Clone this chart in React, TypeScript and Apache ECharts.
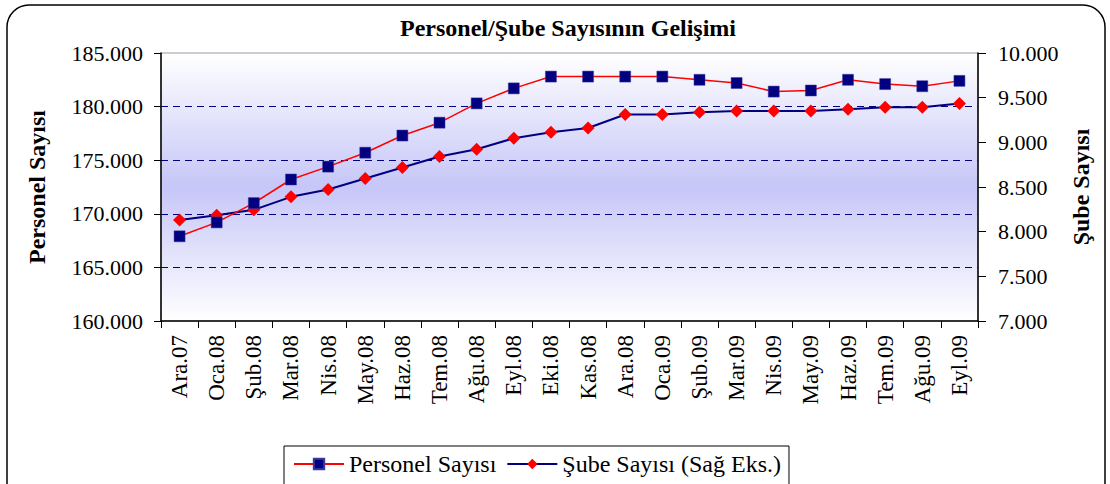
import React, { useEffect, useRef } from "react";
import * as echarts from "echarts";

const categories = [
  "Ara.07", "Oca.08", "Şub.08", "Mar.08", "Nis.08", "May.08", "Haz.08", "Tem.08",
  "Ağu.08", "Eyl.08", "Eki.08", "Kas.08", "Ara.08", "Oca.09", "Şub.09", "Mar.09",
  "Nis.09", "May.09", "Haz.09", "Tem.09", "Ağu.09", "Eyl.09",
];

const personelSayisi = [
  167900, 169200, 171000, 173200, 174400, 175700, 177300, 178500, 180300, 181700, 182800,
  182800, 182800, 182800, 182500, 182200, 181400, 181500, 182500, 182100, 181900, 182400,
];

const subeSayisi = [
  8130, 8185, 8245, 8390, 8472, 8595, 8718, 8841, 8923, 9046, 9113,
  9161, 9311, 9311, 9337, 9351, 9351, 9351, 9370, 9393, 9393, 9434,
];

const gridLineValues = [165000, 170000, 175000, 180000];

const FONT = "'Liberation Serif', 'Times New Roman', serif";

const fmt = (v: number) => {
  const s = Math.round(v).toString();
  return s.replace(/\B(?=(\d{3})+(?!\d))/g, ".");
};

export default function App() {
  const ref = useRef<HTMLDivElement>(null);
  useEffect(() => {
    if (!ref.current) return;
    const chart = echarts.init(ref.current, undefined, { renderer: "svg" });
    chart.setOption({
      animation: false,
      backgroundColor: "#ffffff",
      textStyle: { fontFamily: FONT, color: "#000" },
      title: {
        text: "Personel/Şube Sayısının Gelişimi",
        left: 563,
        textAlign: "center",
        top: 11,
        textStyle: { fontFamily: FONT, fontSize: 24, fontWeight: "bold", color: "#000" },
      },
      graphic: [
        {
          type: "rect",
          shape: { x: 7, y: 5, width: 1098, height: 500, r: 22 },
          style: { fill: "none", stroke: "#000", lineWidth: 1.5 },
          silent: true,
          z: 100,
        },
      ],
      legend: {
        left: 284,
        top: 446,
        padding: [6, 8, 10, 9],
        itemGap: 10,
        itemWidth: 50,
        itemHeight: 13,
        borderColor: "#000",
        borderWidth: 1,
        backgroundColor: "#fff",
        textStyle: { fontFamily: FONT, fontSize: 24, color: "#000" },
        data: ["Personel Sayısı", "Şube Sayısı (Sağ Eks.)"],
      },
      grid: {
        left: 161,
        right: 132,
        top: 53,
        bottom: 163,
        show: true,
        borderColor: "#999",
        borderWidth: 1,
        backgroundColor: {
          type: "linear",
          x: 0, y: 0, x2: 0, y2: 1,
          colorStops: [
            { offset: 0, color: "#ffffff" },
            { offset: 0.5, color: "#c6c6f8" },
            { offset: 1, color: "#ffffff" },
          ],
        },
      },
      xAxis: {
        type: "category",
        data: categories,
        boundaryGap: true,
        axisLine: { lineStyle: { color: "#000", width: 1.5 } },
        axisTick: { show: true, length: 7, lineStyle: { color: "#000" } },
        axisLabel: {
          rotate: 90,
          interval: 0,
          margin: 14,
          fontFamily: FONT,
          fontSize: 23,
          color: "#000",
        },
      },
      yAxis: [
        {
          type: "value",
          min: 160000,
          max: 185000,
          interval: 5000,
          name: "Personel Sayısı",
          nameLocation: "middle",
          nameGap: 112,
          nameTextStyle: { fontFamily: FONT, fontSize: 24, fontWeight: "bold", color: "#000" },
          axisLine: { show: true, lineStyle: { color: "#000", width: 1.5 } },
          axisTick: { show: true, length: 7, lineStyle: { color: "#000" } },
          axisLabel: { margin: 18, fontFamily: FONT, fontSize: 22, color: "#000", formatter: fmt },
          splitLine: { show: false },
        },
        {
          type: "value",
          min: 7000,
          max: 10000,
          interval: 500,
          position: "right",
          name: "Şube Sayısı",
          nameLocation: "middle",
          nameGap: 87,
          nameTextStyle: { fontFamily: FONT, fontSize: 24, fontWeight: "bold", color: "#000" },
          axisLine: { show: true, lineStyle: { color: "#000", width: 1.5 } },
          axisTick: { show: true, length: 8, lineStyle: { color: "#000" } },
          axisLabel: { margin: 20, fontFamily: FONT, fontSize: 22, color: "#000", formatter: fmt },
          splitLine: { show: false },
        },
      ],
      series: [
        {
          name: "Personel Sayısı",
          type: "line",
          yAxisIndex: 0,
          data: personelSayisi,
          symbol: "rect",
          symbolSize: 11,
          lineStyle: { color: "#ff0000", width: 1.5 },
          itemStyle: { color: "#000080", borderColor: "#3a3aa0", borderWidth: 0.5 },
          z: 3,
          markLine: {
            silent: true,
            symbol: "none",
            z: 1,
            label: { show: false },
            lineStyle: { color: "#000080", type: [7, 5], width: 1 },
            data: gridLineValues.map((v) => ({ yAxis: v })),
          },
        },
        {
          name: "Şube Sayısı (Sağ Eks.)",
          type: "line",
          yAxisIndex: 1,
          data: subeSayisi,
          symbol: "diamond",
          symbolSize: 13,
          lineStyle: { color: "#000080", width: 2 },
          itemStyle: { color: "#ff0000" },
          z: 2,
        },
      ],
    });
    return () => chart.dispose();
  }, []);
  return (
    <div
      ref={ref}
      style={{ position: "fixed", left: 0, top: 0, width: 1110, height: 484 }}
    />
  );
}
